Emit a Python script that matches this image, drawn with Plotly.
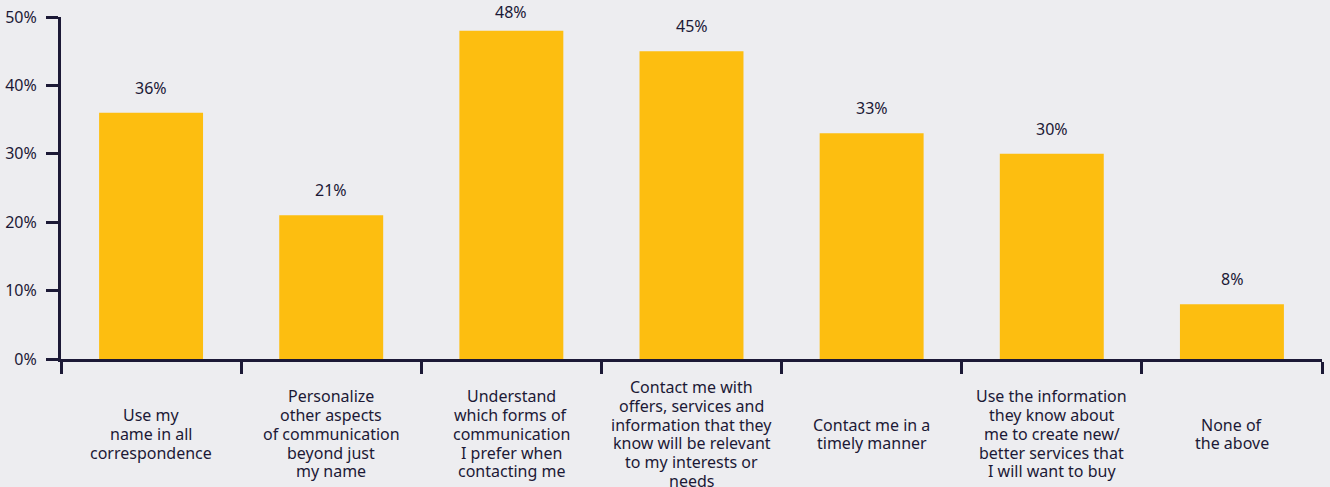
import plotly.graph_objects as go

categories = [
    "Use my<br>name in all<br>correspondence",
    "Personalize<br>other aspects<br>of communication<br>beyond just<br>my name",
    "Understand<br>which forms of<br>communication<br>I prefer when<br>contacting me",
    "Contact me with<br>offers, services and<br>information that they<br>know will be relevant<br>to my interests or<br>needs",
    "Contact me in a<br>timely manner",
    "Use the information<br>they know about<br>me to create new/<br>better services that<br>I will want to buy",
    "None of<br>the above",
]
values = [36, 21, 48, 45, 33, 30, 8]
y_ticks = [0, 10, 20, 30, 40, 50]
y_tick_labels = ["0%", "10%", "20%", "30%", "40%", "50%"]

BG = "#EDEDF0"
BAR = "#FDBE10"
INK = "#1C1936"
FONT = "Noto Sans"
LINE_PITCH = 18.7

fig = go.Figure()
fig.add_trace(go.Bar(
    x=categories,
    y=values,
    marker=dict(color=BAR, line=dict(width=0)),
    hoverinfo="skip",
))

PX_PER_UNIT = 342 / 50
annotations = []
for c, v in zip(categories, values):
    shift = min(25, (50 - v) * PX_PER_UNIT + 5)
    annotations.append(dict(
        x=c, y=v, xref="x", yref="y", text=f"{v}%", showarrow=False,
        yanchor="middle", yshift=shift,
        font=dict(family=FONT, size=16, color=INK),
    ))
for c in categories:
    lines = c.split("<br>")
    mid = (len(lines) - 1) / 2
    for k, line in enumerate(lines):
        annotations.append(dict(
            x=c, y=-0.219, xref="x", yref="paper", text=line, showarrow=False,
            yanchor="middle", xanchor="center", align="center",
            yshift=(mid - k) * LINE_PITCH, borderpad=0,
            font=dict(family=FONT, size=16, color=INK),
        ))

fig.update_layout(
    width=1330, height=487,
    margin=dict(l=61, r=8, t=17, b=128, autoexpand=False),
    paper_bgcolor=BG, plot_bgcolor=BG,
    bargap=0.423,
    showlegend=False,
    annotations=annotations,
    font=dict(family=FONT, size=16, color=INK),
)
fig.update_xaxes(
    type="category",
    categoryorder="array", categoryarray=categories,
    showticklabels=False,
    tickson="boundaries",
    ticks="outside", ticklen=12, tickwidth=3, tickcolor=INK,
    showline=True, linecolor=INK, linewidth=3,
    showgrid=False, zeroline=False, automargin=False,
)
fig.update_yaxes(
    range=[0, 50],
    tickmode="array", tickvals=y_ticks, ticktext=y_tick_labels,
    ticks="outside", ticklen=12, tickwidth=3, tickcolor=INK,
    ticklabelstandoff=6,
    showline=True, linecolor=INK, linewidth=3,
    showgrid=False, zeroline=False, automargin=False,
    tickfont=dict(family=FONT, size=16, color=INK),
)

fig.write_html("out.html")
